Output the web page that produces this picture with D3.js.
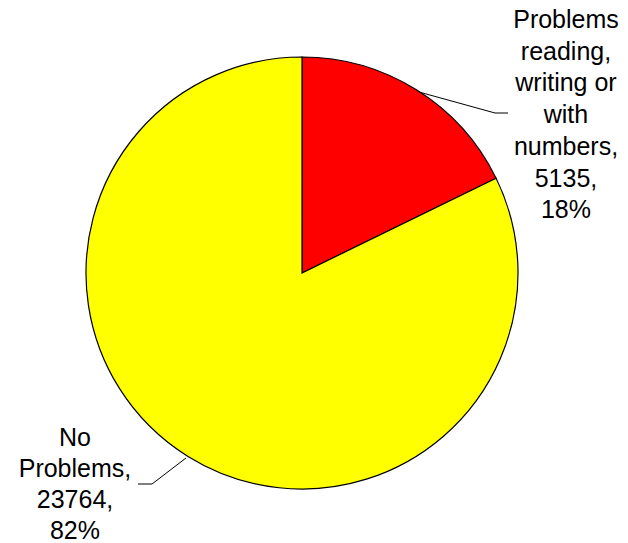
<!DOCTYPE html>
<html><head><meta charset="utf-8">
<script src="https://cdn.jsdelivr.net/npm/d3@7"></script>
<style>body{margin:0;background:#fff}svg{display:block}text{font-family:Arial,"Liberation Sans",sans-serif;fill:#000}</style>
</head><body>
<svg id="c" width="628" height="543"></svg>
<script>
const categories = ["Problems reading, writing or with numbers", "No Problems"];
const values = [5135, 23764];
const percents = ["18%", "82%"];
const labelLines = [
  ["Problems", "reading,", "writing or", "with", "numbers,", "5135,", "18%"],
  ["No", "Problems,", "23764,", "82%"]
];
const colors = ["#FF0000", "#FFFF00"];

const svg = d3.select("#c");
const cx = 302, cy = 273, r = 216;
const g = svg.append("g").attr("transform", `translate(${cx},${cy})`);
const pie = d3.pie().sort(null).value(d => d)(values);
const arc = d3.arc().innerRadius(0).outerRadius(r);
g.selectAll("path").data(pie).enter().append("path")
  .attr("d", arc).attr("fill", (d, i) => colors[i])
  .attr("stroke", "#000").attr("stroke-width", 1.2);

// leader lines
const leaders = [
  [[419 - cx, 92 - cy], [495 - cx, 113 - cy], [508 - cx, 113 - cy]],
  [[186 - cx, 458 - cy], [152 - cx, 484 - cy], [138 - cx, 484 - cy]]
];
g.selectAll("path.lead").data(leaders).enter().append("path").attr("class", "lead")
  .attr("d", d => d3.line()(d)).attr("fill", "none").attr("stroke", "#000").attr("stroke-width", 1);

const labelPos = [{x: 566, y: 28, dy: 31.7}, {x: 75, y: 446, dy: 31}];
labelLines.forEach((lines, i) => {
  const t = svg.append("text").attr("text-anchor", "middle").attr("font-size", 25);
  lines.forEach((l, j) => {
    t.append("tspan").attr("x", labelPos[i].x).attr("y", labelPos[i].y + j * labelPos[i].dy).text(l);
  });
});
</script>
</body></html>
